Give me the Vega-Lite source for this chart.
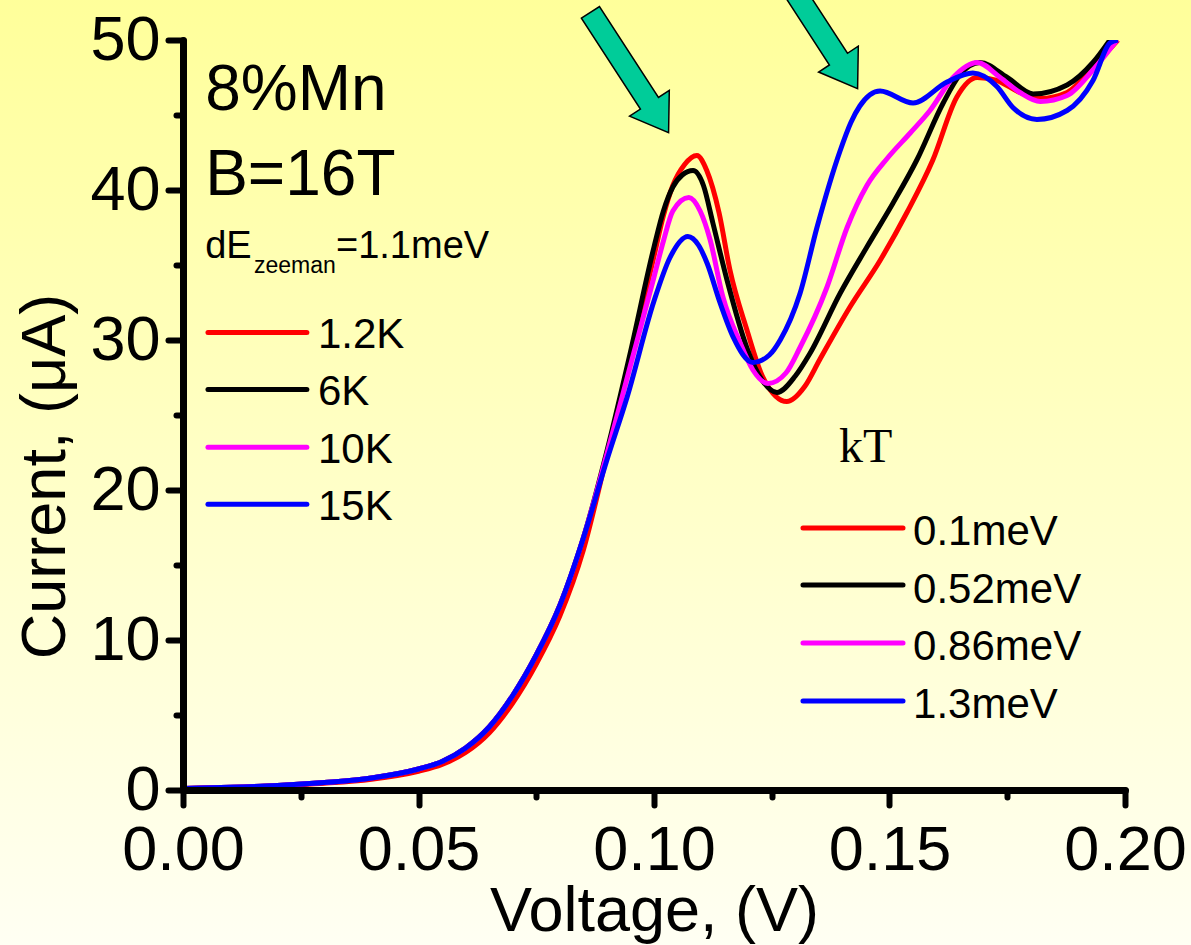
{
  "$schema": "https://vega.github.io/schema/vega-lite/v6.json",
  "width": 942,
  "height": 750,
  "autosize": {"type": "none"},
  "padding": {"left": 183, "top": 40, "right": 66, "bottom": 155},
  "background": "#FFFFCC",
  "config": {"view": {"stroke": null}, "axis": {"grid": false}},
  "datasets": {
    "curves": [
      {"kT": "0.1meV", "V": 0, "I": 0.1}, {"kT": "0.1meV", "V": 0.01, "I": 0.17}, {"kT": "0.1meV", "V": 0.02, "I": 0.28}, {"kT": "0.1meV", "V": 0.03, "I": 0.45}, {"kT": "0.1meV", "V": 0.04, "I": 0.72}, {"kT": "0.1meV", "V": 0.05, "I": 1.25}, {"kT": "0.1meV", "V": 0.055, "I": 1.7}, {"kT": "0.1meV", "V": 0.06, "I": 2.5}, {"kT": "0.1meV", "V": 0.065, "I": 3.8}, {"kT": "0.1meV", "V": 0.07, "I": 5.8}, {"kT": "0.1meV", "V": 0.075, "I": 8.4}, {"kT": "0.1meV", "V": 0.08, "I": 11.6}, {"kT": "0.1meV", "V": 0.085, "I": 16.0}, {"kT": "0.1meV", "V": 0.09, "I": 22.3}, {"kT": "0.1meV", "V": 0.095, "I": 28.8}, {"kT": "0.1meV", "V": 0.1, "I": 35.6}, {"kT": "0.1meV", "V": 0.102, "I": 38.3}, {"kT": "0.1meV", "V": 0.104, "I": 40.3}, {"kT": "0.1meV", "V": 0.1065, "I": 41.7}, {"kT": "0.1meV", "V": 0.1091, "I": 42.3}, {"kT": "0.1meV", "V": 0.1112, "I": 41.3}, {"kT": "0.1meV", "V": 0.1138, "I": 38.5}, {"kT": "0.1meV", "V": 0.1161, "I": 34.7}, {"kT": "0.1meV", "V": 0.1197, "I": 30.7}, {"kT": "0.1meV", "V": 0.123, "I": 27.6}, {"kT": "0.1meV", "V": 0.1282, "I": 25.9}, {"kT": "0.1meV", "V": 0.132, "I": 26.9}, {"kT": "0.1meV", "V": 0.1352, "I": 28.7}, {"kT": "0.1meV", "V": 0.1416, "I": 32.2}, {"kT": "0.1meV", "V": 0.148, "I": 35.3}, {"kT": "0.1meV", "V": 0.1537, "I": 38.5}, {"kT": "0.1meV", "V": 0.1592, "I": 42.0}, {"kT": "0.1meV", "V": 0.1643, "I": 46.2}, {"kT": "0.1meV", "V": 0.1686, "I": 47.5}, {"kT": "0.1meV", "V": 0.1728, "I": 47.3}, {"kT": "0.1meV", "V": 0.1777, "I": 46.5}, {"kT": "0.1meV", "V": 0.182, "I": 46.1}, {"kT": "0.1meV", "V": 0.1877, "I": 46.5}, {"kT": "0.1meV", "V": 0.1932, "I": 48.2}, {"kT": "0.1meV", "V": 0.1985, "I": 50},
      {"kT": "0.52meV", "V": 0, "I": 0.1}, {"kT": "0.52meV", "V": 0.01, "I": 0.18}, {"kT": "0.52meV", "V": 0.02, "I": 0.3}, {"kT": "0.52meV", "V": 0.03, "I": 0.5}, {"kT": "0.52meV", "V": 0.04, "I": 0.8}, {"kT": "0.52meV", "V": 0.05, "I": 1.4}, {"kT": "0.52meV", "V": 0.055, "I": 1.9}, {"kT": "0.52meV", "V": 0.06, "I": 2.8}, {"kT": "0.52meV", "V": 0.065, "I": 4.2}, {"kT": "0.52meV", "V": 0.07, "I": 6.3}, {"kT": "0.52meV", "V": 0.075, "I": 9.0}, {"kT": "0.52meV", "V": 0.08, "I": 12.3}, {"kT": "0.52meV", "V": 0.085, "I": 16.8}, {"kT": "0.52meV", "V": 0.09, "I": 22.6}, {"kT": "0.52meV", "V": 0.095, "I": 29.2}, {"kT": "0.52meV", "V": 0.1, "I": 36.2}, {"kT": "0.52meV", "V": 0.102, "I": 38.6}, {"kT": "0.52meV", "V": 0.104, "I": 40.2}, {"kT": "0.52meV", "V": 0.106, "I": 41.0}, {"kT": "0.52meV", "V": 0.1083, "I": 41.3}, {"kT": "0.52meV", "V": 0.1105, "I": 40.3}, {"kT": "0.52meV", "V": 0.1125, "I": 37.8}, {"kT": "0.52meV", "V": 0.1155, "I": 34.0}, {"kT": "0.52meV", "V": 0.1197, "I": 29.5}, {"kT": "0.52meV", "V": 0.123, "I": 27.3}, {"kT": "0.52meV", "V": 0.1261, "I": 26.5}, {"kT": "0.52meV", "V": 0.13, "I": 27.6}, {"kT": "0.52meV", "V": 0.1331, "I": 29.1}, {"kT": "0.52meV", "V": 0.1395, "I": 33.1}, {"kT": "0.52meV", "V": 0.1452, "I": 36.2}, {"kT": "0.52meV", "V": 0.1507, "I": 39.1}, {"kT": "0.52meV", "V": 0.1558, "I": 42.0}, {"kT": "0.52meV", "V": 0.1614, "I": 45.8}, {"kT": "0.52meV", "V": 0.165, "I": 47.7}, {"kT": "0.52meV", "V": 0.1692, "I": 48.5}, {"kT": "0.52meV", "V": 0.175, "I": 47.5}, {"kT": "0.52meV", "V": 0.1805, "I": 46.4}, {"kT": "0.52meV", "V": 0.1877, "I": 47.0}, {"kT": "0.52meV", "V": 0.1932, "I": 48.5}, {"kT": "0.52meV", "V": 0.1968, "I": 50},
      {"kT": "0.86meV", "V": 0, "I": 0.1}, {"kT": "0.86meV", "V": 0.01, "I": 0.18}, {"kT": "0.86meV", "V": 0.02, "I": 0.3}, {"kT": "0.86meV", "V": 0.03, "I": 0.5}, {"kT": "0.86meV", "V": 0.04, "I": 0.8}, {"kT": "0.86meV", "V": 0.05, "I": 1.4}, {"kT": "0.86meV", "V": 0.055, "I": 1.9}, {"kT": "0.86meV", "V": 0.06, "I": 2.8}, {"kT": "0.86meV", "V": 0.065, "I": 4.2}, {"kT": "0.86meV", "V": 0.07, "I": 6.3}, {"kT": "0.86meV", "V": 0.075, "I": 9.0}, {"kT": "0.86meV", "V": 0.08, "I": 12.3}, {"kT": "0.86meV", "V": 0.085, "I": 16.8}, {"kT": "0.86meV", "V": 0.09, "I": 22.4}, {"kT": "0.86meV", "V": 0.095, "I": 28.3}, {"kT": "0.86meV", "V": 0.1, "I": 34.2}, {"kT": "0.86meV", "V": 0.102, "I": 36.6}, {"kT": "0.86meV", "V": 0.104, "I": 38.6}, {"kT": "0.86meV", "V": 0.1074, "I": 39.5}, {"kT": "0.86meV", "V": 0.1098, "I": 38.6}, {"kT": "0.86meV", "V": 0.1119, "I": 36.7}, {"kT": "0.86meV", "V": 0.1146, "I": 32.9}, {"kT": "0.86meV", "V": 0.1183, "I": 29.8}, {"kT": "0.86meV", "V": 0.121, "I": 28.0}, {"kT": "0.86meV", "V": 0.1242, "I": 27.1}, {"kT": "0.86meV", "V": 0.128, "I": 27.8}, {"kT": "0.86meV", "V": 0.131, "I": 29.5}, {"kT": "0.86meV", "V": 0.1367, "I": 33.5}, {"kT": "0.86meV", "V": 0.141, "I": 37.5}, {"kT": "0.86meV", "V": 0.1452, "I": 40.3}, {"kT": "0.86meV", "V": 0.1495, "I": 42.1}, {"kT": "0.86meV", "V": 0.1544, "I": 43.8}, {"kT": "0.86meV", "V": 0.1586, "I": 45.3}, {"kT": "0.86meV", "V": 0.1635, "I": 47.5}, {"kT": "0.86meV", "V": 0.1686, "I": 48.5}, {"kT": "0.86meV", "V": 0.1735, "I": 47.5}, {"kT": "0.86meV", "V": 0.1777, "I": 46.5}, {"kT": "0.86meV", "V": 0.182, "I": 45.9}, {"kT": "0.86meV", "V": 0.1877, "I": 46.3}, {"kT": "0.86meV", "V": 0.1932, "I": 48.0}, {"kT": "0.86meV", "V": 0.1983, "I": 50},
      {"kT": "1.3meV", "V": 0, "I": 0.1}, {"kT": "1.3meV", "V": 0.01, "I": 0.18}, {"kT": "1.3meV", "V": 0.02, "I": 0.3}, {"kT": "1.3meV", "V": 0.03, "I": 0.5}, {"kT": "1.3meV", "V": 0.04, "I": 0.8}, {"kT": "1.3meV", "V": 0.05, "I": 1.4}, {"kT": "1.3meV", "V": 0.055, "I": 1.9}, {"kT": "1.3meV", "V": 0.06, "I": 2.8}, {"kT": "1.3meV", "V": 0.065, "I": 4.2}, {"kT": "1.3meV", "V": 0.07, "I": 6.3}, {"kT": "1.3meV", "V": 0.075, "I": 9.0}, {"kT": "1.3meV", "V": 0.08, "I": 12.3}, {"kT": "1.3meV", "V": 0.085, "I": 16.8}, {"kT": "1.3meV", "V": 0.09, "I": 22.0}, {"kT": "1.3meV", "V": 0.0943, "I": 26.2}, {"kT": "1.3meV", "V": 0.1, "I": 32.6}, {"kT": "1.3meV", "V": 0.1034, "I": 35.5}, {"kT": "1.3meV", "V": 0.1072, "I": 36.9}, {"kT": "1.3meV", "V": 0.1095, "I": 36.3}, {"kT": "1.3meV", "V": 0.1113, "I": 35.1}, {"kT": "1.3meV", "V": 0.114, "I": 32.5}, {"kT": "1.3meV", "V": 0.1168, "I": 30.2}, {"kT": "1.3meV", "V": 0.121, "I": 28.5}, {"kT": "1.3meV", "V": 0.1245, "I": 29.0}, {"kT": "1.3meV", "V": 0.1268, "I": 30.0}, {"kT": "1.3meV", "V": 0.131, "I": 33.1}, {"kT": "1.3meV", "V": 0.1346, "I": 37.5}, {"kT": "1.3meV", "V": 0.1395, "I": 42.6}, {"kT": "1.3meV", "V": 0.1418, "I": 44.5}, {"kT": "1.3meV", "V": 0.1437, "I": 45.6}, {"kT": "1.3meV", "V": 0.148, "I": 46.6}, {"kT": "1.3meV", "V": 0.155, "I": 45.8}, {"kT": "1.3meV", "V": 0.1622, "I": 47.2}, {"kT": "1.3meV", "V": 0.1677, "I": 47.8}, {"kT": "1.3meV", "V": 0.1728, "I": 46.9}, {"kT": "1.3meV", "V": 0.1762, "I": 45.5}, {"kT": "1.3meV", "V": 0.1813, "I": 44.7}, {"kT": "1.3meV", "V": 0.1877, "I": 45.3}, {"kT": "1.3meV", "V": 0.1932, "I": 47.3}, {"kT": "1.3meV", "V": 0.1968, "I": 49.8}, {"kT": "1.3meV", "V": 0.1985, "I": 50}
    ]
  },
  "layer": [
    {
      "data": {"values": [{}]},
      "mark": {"type": "rect", "fill": {"gradient": "linear", "x1": 0, "y1": 0, "x2": 0, "y2": 1, "stops": [{"offset": 0, "color": "#FFFF99"}, {"offset": 1, "color": "#FFFFF4"}]}},
      "encoding": {
        "x": {"datum": -0.045, "type": "quantitative", "scale": {"domain": [0, 0.2], "nice": false, "zero": false}},
        "x2": {"datum": 0.22},
        "y": {"datum": -11, "type": "quantitative", "scale": {"domain": [0, 50], "nice": false}},
        "y2": {"datum": 53.5}
      }
    },
    {
      "data": {"name": "curves"},
      "mark": {"type": "line", "interpolate": "monotone", "strokeWidth": 5, "clip": true},
      "encoding": {
        "x": {
          "field": "V", "type": "quantitative",
          "scale": {"domain": [0, 0.2], "nice": false, "zero": false},
          "axis": {
            "zindex": 2,
            "title": "Voltage, (V)",
            "values": [0, 0.025, 0.05, 0.075, 0.1, 0.125, 0.15, 0.175, 0.2],
            "labelExpr": "round(datum.value*1000) % 50 == 0 ? format(datum.value, '.2f') : ''",
            "tickSize": {"condition": {"test": "round(datum.value*1000) % 50 == 0", "value": 15}, "value": 7},
            "tickWidth": 6, "tickColor": "#000000", "tickCap": "round",
            "domainColor": "#000000", "domainWidth": 7, "domainCap": "round",
            "labelFont": "Liberation Sans", "labelFontSize": 63, "labelColor": "#000000", "labelPadding": 14,
            "labelFlush": false, "labelOverlap": false,
            "titleFont": "Liberation Sans", "titleFontSize": 63, "titleFontWeight": "normal", "titleColor": "#000000",
            "titleBaseline": "alphabetic", "titleY": 140
          }
        },
        "y": {
          "field": "I", "type": "quantitative",
          "scale": {"domain": [0, 50], "nice": false},
          "axis": {
            "zindex": 2,
            "title": "Current, (μA)",
            "values": [0, 5, 10, 15, 20, 25, 30, 35, 40, 45, 50],
            "labelExpr": "datum.value % 10 == 0 ? format(datum.value, 'd') : ''",
            "tickSize": {"condition": {"test": "datum.value % 10 == 0", "value": 15}, "value": 7},
            "tickWidth": 6, "tickColor": "#000000", "tickCap": "round",
            "domainColor": "#000000", "domainWidth": 7, "domainCap": "round",
            "labelFont": "Liberation Sans", "labelFontSize": 63, "labelColor": "#000000", "labelPadding": 8,
            "labelFlush": false, "labelOverlap": false,
            "titleFont": "Liberation Sans", "titleFontSize": 63, "titleFontWeight": "normal", "titleColor": "#000000",
            "titleBaseline": "alphabetic", "titleX": -119, "titleY": 436, "titleAngle": 270
          }
        },
        "color": {
          "field": "kT", "type": "nominal",
          "scale": {"domain": ["0.1meV", "0.52meV", "0.86meV", "1.3meV"], "range": ["#FF0000", "#000000", "#FF00FF", "#0000FF"]},
          "legend": null
        }
      }
    },
    {
      "data": {"values": [{}]},
      "mark": {"type": "point", "shape": "M-0.15,-1L0.15,-1L0.15,0.51L0.33,0.51L0,1L-0.33,0.51L-0.15,0.51Z", "size": 20590, "angle": -33, "filled": true, "fill": "#00CC99", "stroke": "#000000", "strokeWidth": 1.5, "opacity": 1},
      "encoding": {"x": {"datum": 0.0948, "type": "quantitative"}, "y": {"datum": 47.83, "type": "quantitative"}}
    },
    {
      "data": {"values": [{}]},
      "mark": {"type": "point", "shape": "M-0.15,-1L0.15,-1L0.15,0.51L0.33,0.51L0,1L-0.33,0.51L-0.15,0.51Z", "size": 20590, "angle": -33, "filled": true, "fill": "#00CC99", "stroke": "#000000", "strokeWidth": 1.5, "opacity": 1},
      "encoding": {"x": {"datum": 0.13493, "type": "quantitative"}, "y": {"datum": 50.77, "type": "quantitative"}}
    },
    {
      "data": {"values": [{}]},
      "mark": {"type": "text", "text": "8%Mn", "font": "Liberation Sans", "fontSize": 64, "align": "left", "baseline": "alphabetic", "color": "#000000"},
      "encoding": {"x": {"datum": 0.0047, "type": "quantitative"}, "y": {"datum": 45.33, "type": "quantitative"}}
    },
    {
      "data": {"values": [{}]},
      "mark": {"type": "text", "text": "B=16T", "font": "Liberation Sans", "fontSize": 64, "align": "left", "baseline": "alphabetic", "color": "#000000"},
      "encoding": {"x": {"datum": 0.0047, "type": "quantitative"}, "y": {"datum": 39.67, "type": "quantitative"}}
    },
    {
      "data": {"values": [{}]},
      "mark": {"type": "text", "text": "dE", "font": "Liberation Sans", "fontSize": 38, "align": "left", "baseline": "alphabetic", "color": "#000000"},
      "encoding": {"x": {"datum": 0.0047, "type": "quantitative"}, "y": {"datum": 35.47, "type": "quantitative"}}
    },
    {
      "data": {"values": [{}]},
      "mark": {"type": "text", "text": "zeeman", "font": "Liberation Sans", "fontSize": 23, "align": "left", "baseline": "alphabetic", "color": "#000000"},
      "encoding": {"x": {"datum": 0.01507, "type": "quantitative"}, "y": {"datum": 34.47, "type": "quantitative"}}
    },
    {
      "data": {"values": [{}]},
      "mark": {"type": "text", "text": "=1.1meV", "font": "Liberation Sans", "fontSize": 38, "align": "left", "baseline": "alphabetic", "color": "#000000"},
      "encoding": {"x": {"datum": 0.03248, "type": "quantitative"}, "y": {"datum": 35.47, "type": "quantitative"}}
    },
    {
      "data": {"values": [{}]},
      "mark": {"type": "rule", "color": "#FF0000", "strokeWidth": 5, "strokeCap": "round"},
      "encoding": {"x": {"datum": 0.0053, "type": "quantitative"}, "x2": {"datum": 0.0263}, "y": {"datum": 30.5, "type": "quantitative"}}
    },
    {
      "data": {"values": [{}]},
      "mark": {"type": "rule", "color": "#000000", "strokeWidth": 5, "strokeCap": "round"},
      "encoding": {"x": {"datum": 0.0053, "type": "quantitative"}, "x2": {"datum": 0.0263}, "y": {"datum": 26.7, "type": "quantitative"}}
    },
    {
      "data": {"values": [{}]},
      "mark": {"type": "rule", "color": "#FF00FF", "strokeWidth": 5, "strokeCap": "round"},
      "encoding": {"x": {"datum": 0.0053, "type": "quantitative"}, "x2": {"datum": 0.0263}, "y": {"datum": 22.85, "type": "quantitative"}}
    },
    {
      "data": {"values": [{}]},
      "mark": {"type": "rule", "color": "#0000FF", "strokeWidth": 5, "strokeCap": "round"},
      "encoding": {"x": {"datum": 0.0053, "type": "quantitative"}, "x2": {"datum": 0.0263}, "y": {"datum": 19.05, "type": "quantitative"}}
    },
    {
      "data": {"values": [{}]},
      "mark": {"type": "text", "text": ["1.2K", "6K", "10K", "15K"], "lineHeight": 57.5, "font": "Liberation Sans", "fontSize": 42, "align": "left", "baseline": "alphabetic", "color": "#000000"},
      "encoding": {"x": {"datum": 0.02866, "type": "quantitative"}, "y": {"datum": 29.47, "type": "quantitative"}}
    },
    {
      "data": {"values": [{}]},
      "mark": {"type": "text", "text": "kT", "font": "Liberation Serif", "fontSize": 48, "align": "left", "baseline": "alphabetic", "color": "#000000"},
      "encoding": {"x": {"datum": 0.13928, "type": "quantitative"}, "y": {"datum": 21.87, "type": "quantitative"}}
    },
    {
      "data": {"values": [{}]},
      "mark": {"type": "rule", "color": "#FF0000", "strokeWidth": 5, "strokeCap": "round"},
      "encoding": {"x": {"datum": 0.13163, "type": "quantitative"}, "x2": {"datum": 0.15287}, "y": {"datum": 17.47, "type": "quantitative"}}
    },
    {
      "data": {"values": [{}]},
      "mark": {"type": "rule", "color": "#000000", "strokeWidth": 5, "strokeCap": "round"},
      "encoding": {"x": {"datum": 0.13163, "type": "quantitative"}, "x2": {"datum": 0.15287}, "y": {"datum": 13.67, "type": "quantitative"}}
    },
    {
      "data": {"values": [{}]},
      "mark": {"type": "rule", "color": "#FF00FF", "strokeWidth": 5, "strokeCap": "round"},
      "encoding": {"x": {"datum": 0.13163, "type": "quantitative"}, "x2": {"datum": 0.15287}, "y": {"datum": 9.8, "type": "quantitative"}}
    },
    {
      "data": {"values": [{}]},
      "mark": {"type": "rule", "color": "#0000FF", "strokeWidth": 5, "strokeCap": "round"},
      "encoding": {"x": {"datum": 0.13163, "type": "quantitative"}, "x2": {"datum": 0.15287}, "y": {"datum": 5.93, "type": "quantitative"}}
    },
    {
      "data": {"values": [{}]},
      "mark": {"type": "text", "text": ["0.1meV", "0.52meV", "0.86meV", "1.3meV"], "lineHeight": 57.5, "font": "Liberation Sans", "fontSize": 42, "align": "left", "baseline": "alphabetic", "color": "#000000"},
      "encoding": {"x": {"datum": 0.155, "type": "quantitative"}, "y": {"datum": 16.33, "type": "quantitative"}}
    }
  ]
}
